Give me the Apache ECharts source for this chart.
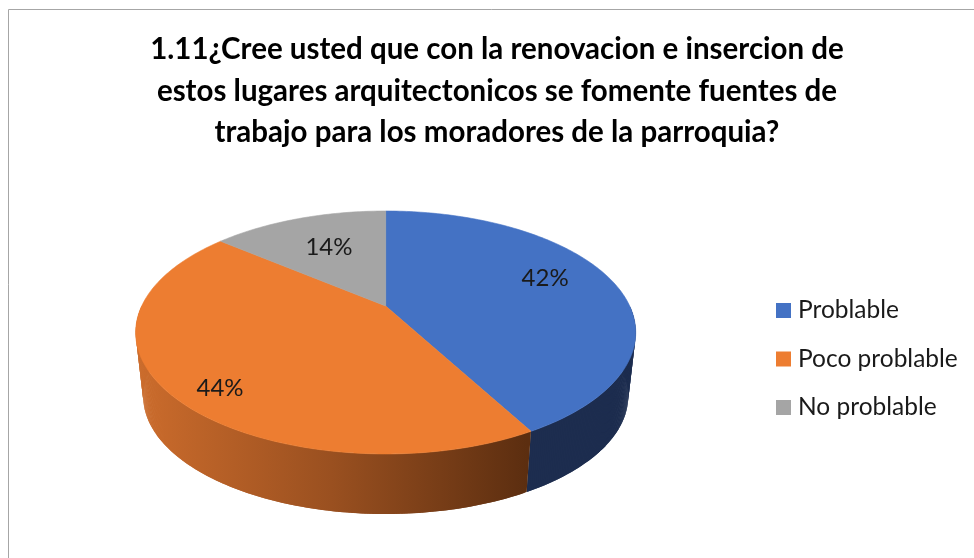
<!DOCTYPE html>
<html>
<head>
<meta charset="utf-8">
<script src="https://cdn.jsdelivr.net/npm/echarts/dist/echarts.min.js"></script>
<style>
html,body{margin:0;padding:0;background:#fff;}
#c{width:974px;height:558px;}
</style>
</head>
<body>
<div id="c"></div>
<script>
// ---------- data ----------
const titleText = '1.11¿Cree usted que con la renovacion e insercion de\nestos lugares arquitectonicos se fomente fuentes de\ntrabajo para los moradores de la parroquia?';
const categories = ['Problable', 'Poco problable', 'No problable'];
const values = [42, 44, 14];

// ---------- style / layout ----------
const topColors = ['#4472C4', '#ED7D31', '#A5A5A5'];
const wallFills = [
  '#1D2D4F',
  new echarts.graphic.LinearGradient(135, 0, 527, 0, [
    {offset: 0, color: '#CC6C2C'},
    {offset: 0.5, color: '#9A5020'},
    {offset: 1, color: '#5C2E10'}
  ], true),
  '#7A7A7A'
];
const G = {cx: 385.7, cy: 306, A: 244, B: 115.7, p: 0.218, k: 0.97, cyB: 370.5};
const LABEL_FRAC = [0.70, 0.785, 0.612];
const LABEL_DY = [-8, 17, -2];
const FONT = 'Lato, "Noto Sans", sans-serif';

const total = values.reduce((a, b) => a + b, 0);
const starts = [];
values.reduce((acc, v, i) => { starts[i] = acc; return acc + v / total * 360; }, 0);

function proj(theta, f, bottom) {
  const t = theta * Math.PI / 180;
  const u = Math.sin(t) * f, v = Math.cos(t) * f;
  const d = 1 + G.p * v;
  if (bottom) return [G.cx + G.A * G.k * u / d, G.cyB - G.B * G.k * v / d];
  return [G.cx + G.A * u / d, G.cy - G.B * v / d];
}

function makeSeries(i) {
  return {
    type: 'custom',
    name: categories[i],
    coordinateSystem: 'none',
    itemStyle: {color: topColors[i]},
    data: [[values[i]]],
    renderItem: function (params, api) {
      const val = api.value(0);
      const a = starts[i];
      const b = a + val / total * 360;
      const children = [];
      // side wall (front half only)
      const wa = Math.max(a, 90), wb = Math.min(b, 270);
      const step = 0.5;
      for (let t = wa; t < wb; t += step) {
        const t2 = Math.min(t + step * 2, wb);
        children.push({
          type: 'polygon', z2: 1, silent: true,
          shape: {points: [proj(t, 1, false), proj(t2, 1, false), proj(t2, 1, true), proj(t, 1, true)]},
          style: {fill: wallFills[i]}
        });
      }
      // top face
      const pts = [[G.cx, G.cy]];
      for (let t = a; t < b; t += 1) pts.push(proj(t, 1, false));
      pts.push(proj(b, 1, false));
      children.push({
        type: 'polygon', z2: 10,
        shape: {points: pts},
        style: {fill: topColors[i], stroke: topColors[i], lineWidth: 0.6}
      });
      // label
      const mid = (a + b) / 2;
      const lp = proj(mid, LABEL_FRAC[i], false);
      children.push({
        type: 'text', z2: 20, silent: true,
        style: {
          text: Math.round(val / total * 100) + '%',
          x: lp[0], y: lp[1] + LABEL_DY[i],
          fill: '#1a1a1a',
          font: '24px ' + FONT,
          align: 'center', verticalAlign: 'middle',
          textAlign: 'center', textVerticalAlign: 'middle'
        }
      });
      return {type: 'group', children: children};
    }
  };
}

const chart = echarts.init(document.getElementById('c'), null, {renderer: 'canvas'});
chart.setOption({
  animation: false,
  color: topColors,
  title: {
    text: titleText,
    left: 497,
    textAlign: 'center',
    top: 29,
    padding: 0,
    textStyle: {fontFamily: FONT, fontWeight: 'bold', fontSize: 29.5, lineHeight: 41.5, color: '#000'}
  },
  legend: {
    orient: 'vertical',
    left: 776,
    top: 298,
    padding: 0,
    icon: 'rect',
    itemWidth: 15,
    itemHeight: 15,
    itemGap: 23.5,
    data: categories,
    textStyle: {fontFamily: FONT, fontSize: 24.5, lineHeight: 24, color: '#1a1a1a', padding: [0, 0, 0, 2]}
  },
  graphic: [{
    type: 'rect', silent: true,
    shape: {x: 8.5, y: 9.5, width: 1000, height: 600},
    style: {fill: 'none', stroke: '#A6A6A6', lineWidth: 1}
  }],
  series: categories.map((c, i) => makeSeries(i))
});
</script>
</body>
</html>
